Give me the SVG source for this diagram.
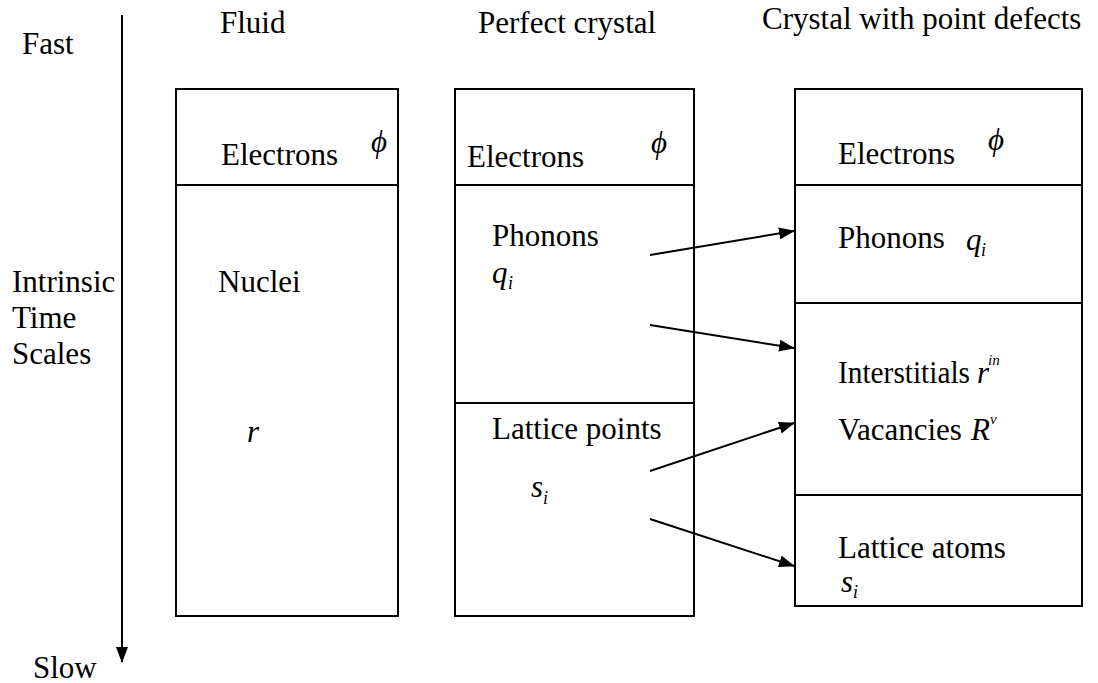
<svg xmlns="http://www.w3.org/2000/svg" width="1098" height="683" viewBox="0 0 1098 683">
<defs>
<style>
text{font-family:'Liberation Serif','Times New Roman',serif;font-size:31px;fill:#000}
.it{font-style:italic}
.sub{font-size:18px;font-style:italic}
.sup{font-size:15px;font-style:italic}
.box{fill:#fff;stroke:#000;stroke-width:2}
.div{stroke:#000;stroke-width:2}
.conn{stroke:#000;stroke-width:2;fill:none}
</style>
<marker id="ah" markerUnits="userSpaceOnUse" markerWidth="16" markerHeight="12" refX="15" refY="6" orient="auto">
<path d="M0,0 L16,6 L0,12 Z" fill="#000"/>
</marker>
</defs>
<rect width="1098" height="683" fill="#fff"/>

<g id="axis">
<line class="conn" x1="122" y1="15" x2="122" y2="662" marker-end="url(#ah)"/>
<text x="22" y="54">Fast</text>
<text x="12" y="292">Intrinsic</text>
<text x="12" y="328">Time</text>
<text x="12" y="364">Scales</text>
<text x="33" y="678">Slow</text>
</g>

<g id="titles">
<text x="220" y="33">Fluid</text>
<text x="478" y="33">Perfect crystal</text>
<text x="762" y="29">Crystal with point defects</text>
</g>

<g id="fluid">
<rect class="box" x="176" y="89" width="222" height="527"/>
<line class="div" x1="176" y1="185" x2="398" y2="185"/>
<text x="221" y="165">Electrons</text>
<text class="it" x="371" y="152">ϕ</text>
<text x="218" y="292">Nuclei</text>
<text class="it" x="247" y="442">r</text>
</g>

<g id="perfect">
<rect class="box" x="455" y="89" width="239" height="527"/>
<line class="div" x1="455" y1="185" x2="694" y2="185"/>
<line class="div" x1="455" y1="403" x2="694" y2="403"/>
<text x="467" y="167">Electrons</text>
<text class="it" x="651" y="153">ϕ</text>
<text x="492" y="246">Phonons</text>
<text class="it" x="492" y="283">q</text><text class="sub" x="508" y="289">i</text>
<text x="492" y="439">Lattice points</text>
<text class="it" x="531" y="497">s</text><text class="sub" x="543" y="504">i</text>
</g>

<g id="defects">
<rect class="box" x="795" y="89" width="287" height="517"/>
<line class="div" x1="795" y1="185" x2="1082" y2="185"/>
<line class="div" x1="795" y1="303" x2="1082" y2="303"/>
<line class="div" x1="795" y1="495" x2="1082" y2="495"/>
<text x="838" y="164">Electrons</text>
<text class="it" x="988" y="150">ϕ</text>
<text x="838" y="248">Phonons</text>
<text class="it" x="966" y="250">q</text><text class="sub" x="981" y="256">i</text>
<text x="838" y="383" textLength="132" lengthAdjust="spacingAndGlyphs">Interstitials</text>
<text class="it" x="977" y="383">r</text><text class="sup" x="988" y="365">in</text>
<text x="838" y="440">Vacancies</text>
<text class="it" x="971" y="440">R</text><text class="sup" x="990" y="424">v</text>
<text x="838" y="558">Lattice atoms</text>
<text class="it" x="841" y="592">s</text><text class="sub" x="853" y="598">i</text>
</g>

<g id="connectors">
<line class="conn" x1="650" y1="255" x2="794" y2="231" marker-end="url(#ah)"/>
<line class="conn" x1="650" y1="325" x2="794" y2="348" marker-end="url(#ah)"/>
<line class="conn" x1="650" y1="471" x2="794" y2="423" marker-end="url(#ah)"/>
<line class="conn" x1="650" y1="519" x2="794" y2="566" marker-end="url(#ah)"/>
</g>
</svg>
